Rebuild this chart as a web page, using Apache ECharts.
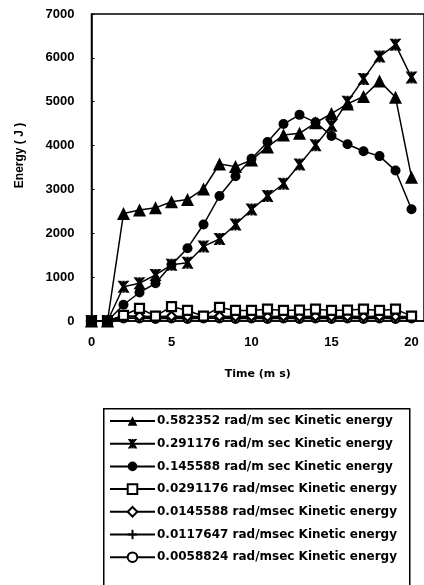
<!DOCTYPE html>
<html><head><meta charset="utf-8">
<script src="https://cdn.jsdelivr.net/npm/echarts@6/dist/echarts.min.js"></script>
<style>html,body{margin:0;padding:0;background:#fff}#c{width:424px;height:585px}</style>
</head><body><div id="c"></div>
<script>
const times = [0,1,2,3,4,5,6,7,8,9,10,11,12,13,14,15,16,17,18,19,20];
const names = [
  '0.582352 rad/m sec Kinetic energy',
  '0.291176 rad/m sec Kinetic energy',
  '0.145588 rad/m sec Kinetic energy',
  '0.0291176 rad/msec Kinetic energy',
  '0.0145588 rad/msec Kinetic energy',
  '0.0117647 rad/msec Kinetic energy',
  '0.0058824 rad/msec Kinetic energy'
];
const s0582352 = [0,0,2450,2530,2580,2720,2770,3010,3580,3520,3670,3970,4240,4280,4520,4730,4950,5120,5470,5100,3280];
const s0291176 = [0,0,780,860,1050,1280,1330,1700,1870,2200,2540,2850,3130,3570,4010,4450,5000,5520,6030,6300,5550];
const s0145588 = [0,0,370,650,860,1280,1660,2200,2850,3300,3700,4080,4490,4700,4530,4220,4030,3870,3760,3430,2550];
const s00291176 = [0,0,130,290,110,330,240,110,310,240,240,270,240,250,270,240,250,270,240,270,110];
const s00145588 = [0,0,120,110,100,110,100,100,110,100,110,100,110,100,110,100,110,100,110,100,100];
const s00117647 = [0,0,90,90,80,90,80,90,90,80,90,80,90,80,90,80,90,80,90,80,80];
const s00058824 = [0,0,60,60,50,60,50,60,60,50,60,50,60,50,60,50,60,50,60,50,60];
const yTicks = [0,1000,2000,3000,4000,5000,6000,7000];
const xTicks = [0,5,10,15,20];

const XSYM = 'path://M0,0 L3,0 L5,2.5 L7,0 L10,0 L6.5,4 L6.5,4 L10,10 L7,10 L5,7 L3,10 L0,10 L3.5,5 Z M4,0 L6,0 L6,10 L4,10 Z';
const PLUS = 'path://M4,0 L6,0 L6,4 L10,4 L10,6 L6,6 L6,10 L4,10 L4,6 L0,6 L0,4 L4,4 Z';
const data = [s0582352, s0291176, s0145588, s00291176, s00145588, s00117647, s00058824];
const syms = ['triangle', XSYM, 'circle', 'rect', 'diamond', PLUS, 'circle'];
const sizes = [13, 12, 10, 9, 9, 9, 8];
const hollow = [false, false, false, true, true, false, true];
const font = 'DejaVu Sans';

const series = data.map((d, i) => ({
  name: names[i], type: 'line', data: d.map((v, j) => [times[j], v]),
  symbol: syms[i], symbolSize: sizes[i], showAllSymbol: true,
  lineStyle: {color: '#000', width: 1.5},
  itemStyle: hollow[i] ? {color: '#fff', borderColor: '#000', borderWidth: 2.2} : {color: '#000', borderColor: '#000', borderWidth: 0},
  z: 10 - i, animation: false
}));

const chart = echarts.init(document.getElementById('c'), null, {renderer: 'canvas'});
chart.setOption({
  animation: false,
  backgroundColor: '#fff',
  textStyle: {fontFamily: font, color: '#000'},
  grid: {left: 91.5, top: 14, right: 0, bottom: 264, show: true, borderColor: '#000', borderWidth: 1.5, backgroundColor: 'transparent'},
  xAxis: {
    type: 'value', min: 0, max: 20.78, interval: 5,
    name: 'Time (m s)', nameLocation: 'middle', nameGap: 48,
    nameTextStyle: {fontFamily: font, fontWeight: 'bold', fontSize: 11, color: '#000'},
    axisLine: {show: true, lineStyle: {color: '#000', width: 1.5}},
    axisTick: {show: false}, splitLine: {show: false},
    axisLabel: {fontFamily: 'Liberation Sans', fontWeight: 'bold', fontSize: 13, color: '#000', margin: 15,
      formatter: v => xTicks.indexOf(v) >= 0 ? String(v) : '', showMaxLabel: false}
  },
  yAxis: {
    type: 'value', min: 0, max: 7000, interval: 1000,
    name: 'Energy ( J )', nameLocation: 'middle', nameGap: 66, nameRotate: 90,
    nameTextStyle: {fontFamily: 'Liberation Sans', fontWeight: 'bold', fontSize: 12, color: '#000', padding: [0, 0, 0, 24]},
    axisLine: {show: true, lineStyle: {color: '#000', width: 1.5}},
    axisTick: {show: true, inside: true, length: 3, lineStyle: {color: '#000'}},
    splitLine: {show: false},
    axisLabel: {fontFamily: 'Liberation Sans', fontWeight: 'bold', fontSize: 13, color: '#000', margin: 17,
      formatter: v => yTicks.indexOf(v) >= 0 ? String(v) : ''}
  },
  graphic: [{
    type: 'rect', left: 103, top: 408, z: -1,
    shape: {width: 306, height: 200},
    style: {fill: '#fff', stroke: '#000', lineWidth: 1.5}
  }],
  legend: {
    orient: 'vertical', left: 103, top: 408,
    data: names,
    borderWidth: 0,
    padding: [7, 4, 2, 6], itemGap: 10.7, itemWidth: 45, itemHeight: 12,
    textStyle: {fontFamily: font, fontWeight: 'bold', fontSize: 12, color: '#000', padding: [0, 0, 0, -3]},
    selectedMode: false
  },
  series: series
});
</script></body></html>
